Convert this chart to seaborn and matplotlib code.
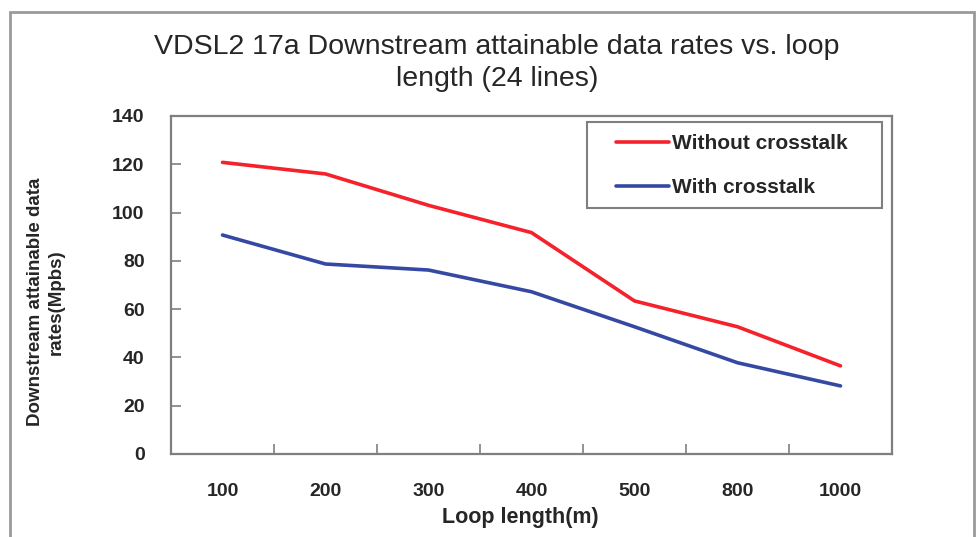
import numpy as np
import pandas as pd
import seaborn as sns
import matplotlib.pyplot as plt
from matplotlib.patches import Rectangle
from matplotlib.ticker import FixedLocator

# --------------------------- DATA ---------------------------
loop_lengths = ['100', '200', '300', '400', '500', '800', '1000']
without_xtalk = [120.8, 116.0, 103.0, 91.7, 63.4, 52.7, 36.5]
with_xtalk = [90.7, 78.7, 76.2, 67.2, 52.7, 37.8, 28.2]
series_names = ['Without crosstalk', 'With crosstalk']

df = pd.DataFrame({
    'Loop length(m)': loop_lengths * 2,
    'rate': without_xtalk + with_xtalk,
    'series': [series_names[0]] * len(loop_lengths) + [series_names[1]] * len(loop_lengths),
})

# --------------------------- STYLE ---------------------------
sns.set_theme(style='white')
plt.rcParams['font.family'] = ['Liberation Sans', 'DejaVu Sans']
palette = {'Without crosstalk': '#f5222b', 'With crosstalk': '#3549a3'}
spine_grey = '#7f7f7f'

fig = plt.figure(figsize=(9.76, 5.37), dpi=100)
ax = fig.add_axes([171 / 976, 1 - 454 / 537, 721 / 976, 338 / 537])

sns.lineplot(data=df, x='Loop length(m)', y='rate', hue='series', sort=False,
             palette=palette, linewidth=2.6, ax=ax)

# --------------------------- AXES ---------------------------
ax.set_xlim(-0.5, len(loop_lengths) - 0.5)
ax.set_ylim(0, 140)
ax.set_yticks(np.arange(0, 141, 20))
ax.xaxis.set_minor_locator(FixedLocator(np.arange(0.5, len(loop_lengths) - 1, 1)))
ax.tick_params(axis='x', which='major', length=0, pad=21, labelsize=14)
ax.tick_params(axis='x', which='minor', direction='in', length=7, width=1.2,
               color=spine_grey, bottom=True)
ax.tick_params(axis='y', direction='in', length=7, width=1.2, color=spine_grey,
               pad=19, labelsize=14, left=True)
for lab in ax.get_xticklabels() + ax.get_yticklabels():
    lab.set_fontweight('bold')
for sp in ax.spines.values():
    sp.set_color(spine_grey)
    sp.set_linewidth(1.6)
ax.set_xlabel('')
ax.set_ylabel('')

fig.text(520 / 976, 1 - 518 / 537, 'Loop length(m)', ha='center', va='center',
         fontsize=15.5, fontweight='bold')
fig.text(46 / 976, 1 - 302 / 537, 'Downstream attainable data\nrates(Mpbs)',
         ha='center', va='center', rotation=90, fontsize=13.5, fontweight='bold',
         linespacing=1.3)
fig.text(497 / 976, 1 - 63 / 537,
         'VDSL2 17a Downstream attainable data rates vs. loop\nlength (24 lines)',
         ha='center', va='center', fontsize=20.5, linespacing=1.3)

# --------------------------- LEGEND ---------------------------
# frame drawn separately (wider side padding than top/bottom)
fig.patches.append(Rectangle((587 / 976, 1 - 208 / 537), 295 / 976, 86 / 537,
                             transform=fig.transFigure, fill=False,
                             edgecolor=spine_grey, linewidth=1.5, zorder=5))
leg = ax.legend(title=None, loc='upper left', bbox_to_anchor=(616 / 976, 1 - 134 / 537),
                bbox_transform=fig.transFigure, frameon=False,
                prop={'size': 15, 'weight': 'bold'}, handlelength=2.55,
                handletextpad=0.15, labelspacing=1.2, borderpad=0,
                borderaxespad=0)

# --------------------------- FIGURE BORDER ---------------------------
fig.patches.append(Rectangle((10 / 976, -0.1), 964 / 976, 1.1 - 12 / 537,
                             transform=fig.transFigure, fill=False,
                             edgecolor='#9a9a9a', linewidth=2))

fig.savefig('out.png', dpi=100)
